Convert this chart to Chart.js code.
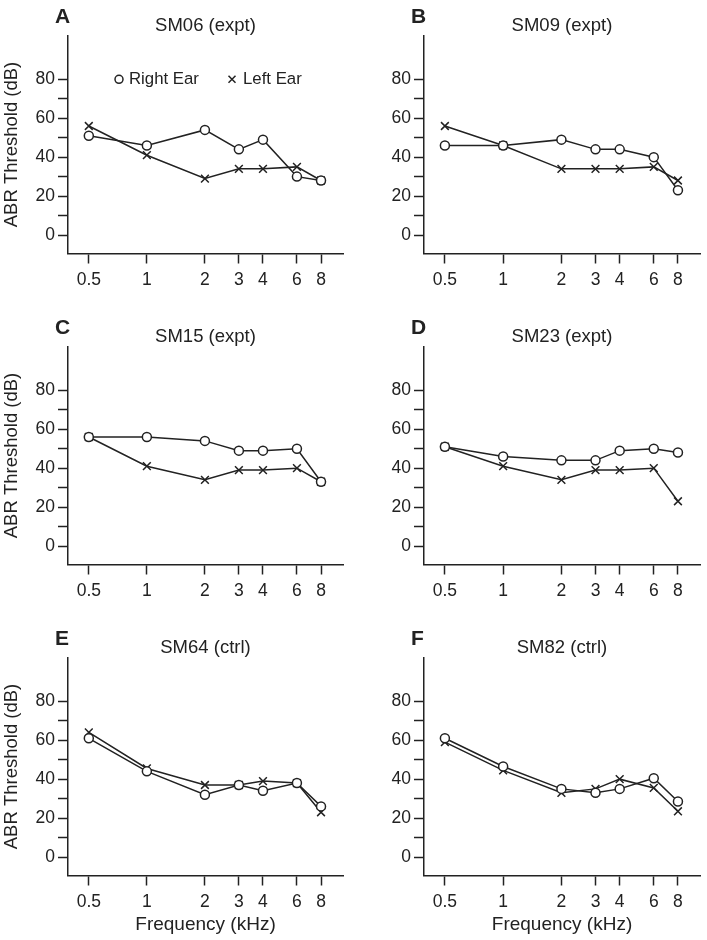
<!DOCTYPE html>
<html>
<head>
<meta charset="utf-8">
<script src="https://cdn.jsdelivr.net/npm/chart.js@4.4.1/dist/chart.umd.min.js"></script>
<style>
body { margin: 0; background: #fff; }
#wrap { position: relative; width: 707px; height: 940px; }
canvas { position: absolute; }
</style>
</head>
<body>
<div id="wrap"></div>
<script>
// frequencies (kHz) and tick values
var freqs = [0.5, 1, 2, 3, 4, 6, 8];
var yTicks = [0, 10, 20, 30, 40, 50, 60, 70, 80];

var letters = ['A', 'B', 'C', 'D', 'E', 'F'];
var titles = ['SM06 (expt)', 'SM09 (expt)', 'SM15 (expt)', 'SM23 (expt)', 'SM64 (ctrl)', 'SM82 (ctrl)'];

// thresholds (dB)
var sm06Right = [51, 46, 54, 44, 49, 30, 28];
var sm06Left  = [56, 41, 29, 34, 34, 35, 28];
var sm09Right = [46, 46, 49, 44, 44, 40, 23];
var sm09Left  = [56, 46, 34, 34, 34, 35, 28];
var sm15Right = [56, 56, 54, 49, 49, 50, 33];
var sm15Left  = [56, 41, 34, 39, 39, 40, 33];
var sm23Right = [51, 46, 44, 44, 49, 50, 48];
var sm23Left  = [51, 41, 34, 39, 39, 40, 23];
var sm64Right = [61, 44, 32, 37, 34, 38, 26];
var sm64Left  = [64, 45.5, 37, 37, 39, 38, 23];
var sm82Right = [61, 46.5, 35, 33, 35, 40.5, 28.5];
var sm82Left  = [59, 44.5, 33, 35, 40, 35.5, 23.5];

var rightEar = [sm06Right, sm09Right, sm15Right, sm23Right, sm64Right, sm82Right];
var leftEar = [sm06Left, sm09Left, sm15Left, sm23Left, sm64Left, sm82Left];

var ink = '#222';
var fam = '"Liberation Sans", Arial, Helvetica, sans-serif';
var colX = [0, 356], colW = [350, 351];
var rowY = [0, 311, 622], rowH = [311, 311, 318];
var wrap = document.getElementById('wrap');

function toPts(vals) {
    return vals.map(function(v, k) { return {x: freqs[k], y: v}; });
}

var letterPlugin = {
    id: 'panelLetter',
    afterDraw: function(chart) {
        var ctx = chart.ctx;
        ctx.save();
        ctx.fillStyle = ink;
        ctx.font = 'bold 21px ' + fam;
        ctx.textBaseline = 'alphabetic';
        ctx.fillText(chart.options.plugins.panelLetter.text, 55, 22.5);
        ctx.restore();
    }
};

// legend sits inside panel A at the 80 dB line
var earLegend = {
    id: 'earLegend',
    afterDraw: function(chart) {
        if (!chart.options.plugins.earLegend.show) return;
        var ctx = chart.ctx;
        var y = chart.scales.y.getPixelForValue(80);
        ctx.save();
        ctx.strokeStyle = ink;
        ctx.fillStyle = ink;
        ctx.lineWidth = 1.5;
        ctx.beginPath();
        ctx.arc(119, y, 4, 0, Math.PI * 2);
        ctx.stroke();
        ctx.beginPath();
        ctx.moveTo(228.5, y - 3.5); ctx.lineTo(235.5, y + 3.5);
        ctx.moveTo(235.5, y - 3.5); ctx.lineTo(228.5, y + 3.5);
        ctx.stroke();
        ctx.font = '16.8px ' + fam;
        ctx.textBaseline = 'middle';
        ctx.fillText('Right Ear', 129, y);
        ctx.fillText('Left Ear', 243, y);
        ctx.restore();
    }
};

function makePanel(i) {
    var col = i % 2, row = Math.floor(i / 2);
    var cv = document.createElement('canvas');
    cv.width = colW[col];
    cv.height = rowH[row];
    cv.style.left = colX[col] + 'px';
    cv.style.top = rowY[row] + 'px';
    wrap.appendChild(cv);

    new Chart(cv.getContext('2d'), {
        type: 'line',
        data: {
            datasets: [{
                label: 'Right Ear',
                data: toPts(rightEar[i]),
                borderColor: ink,
                borderWidth: 1.5,
                pointStyle: 'circle',
                pointRadius: 4.5,
                pointBackgroundColor: '#fff',
                pointBorderColor: ink,
                pointBorderWidth: 1.5
            }, {
                label: 'Left Ear',
                data: toPts(leftEar[i]),
                borderColor: ink,
                borderWidth: 1.5,
                pointStyle: 'crossRot',
                pointRadius: 5.5,
                pointBorderColor: ink,
                pointBorderWidth: 1.5
            }]
        },
        options: {
            responsive: false,
            animation: false,
            devicePixelRatio: 1,
            layout: {padding: {left: 0, right: 2, top: 0, bottom: 0}},
            plugins: {
                legend: {display: false},
                tooltip: {enabled: false},
                title: {
                    display: true,
                    text: titles[i],
                    fullSize: false,
                    color: ink,
                    font: {family: fam, size: 18.5, weight: 'normal', lineHeight: 1},
                    padding: {top: 17, bottom: 0}
                },
                panelLetter: {text: letters[i]},
                earLegend: {show: i === 0}
            },
            scales: {
                x: {
                    type: 'logarithmic',
                    min: 0.39,
                    max: 10.4,
                    afterBuildTicks: function(s) {
                        s.ticks = freqs.map(function(v) { return {value: v}; });
                    },
                    afterFit: function(s) { s.height = s.chart.height - 253.5; },
                    grid: {drawOnChartArea: false, drawTicks: true, tickLength: 10, color: ink, tickWidth: 1.5},
                    border: {display: true, color: ink, width: 1.5},
                    ticks: {
                        color: ink, padding: 6, maxRotation: 0, autoSkip: false,
                        font: {family: fam, size: 17.5},
                        callback: function(v) { return String(v); }
                    },
                    title: {
                        display: row === 2,
                        text: 'Frequency (kHz)',
                        color: ink,
                        font: {family: fam, size: 19, lineHeight: 1.2},
                        padding: {top: 0, bottom: 4}
                    }
                },
                y: {
                    type: 'linear',
                    min: -9.5,
                    max: 102.5,
                    afterBuildTicks: function(s) {
                        s.ticks = yTicks.map(function(v) { return {value: v}; });
                    },
                    afterFit: function(s) { s.width = 68; },
                    grid: {drawOnChartArea: false, drawTicks: true, tickLength: 10, color: ink, tickWidth: 1.5},
                    border: {display: true, color: ink, width: 1.5},
                    ticks: {
                        color: ink, padding: 3,
                        font: {family: fam, size: 17.5},
                        callback: function(v) { return v % 20 === 0 ? String(v) : ''; }
                    },
                    title: {
                        display: col === 0,
                        text: 'ABR Threshold (dB)',
                        color: ink,
                        font: {family: fam, size: 18.5, lineHeight: 1.2},
                        padding: {top: 1, bottom: 0}
                    }
                }
            }
        },
        plugins: [letterPlugin, earLegend]
    });
}

for (var i = 0; i < 6; i++) makePanel(i);
</script>
</body>
</html>
